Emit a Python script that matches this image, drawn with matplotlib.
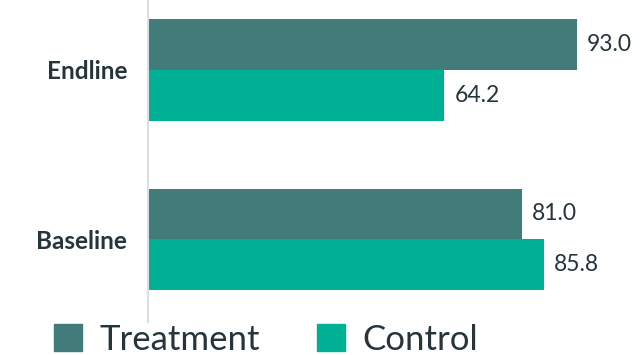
import matplotlib.pyplot as plt
from matplotlib.patches import Patch
import numpy as np

categorias = ['Baseline', 'Endline']
tratamiento = [81.0, 93.0]
control = [85.8, 64.2]
series = ['Treatment', 'Control']

col_trat = '#417B7A'
col_ctrl = '#00B095'
col_texto = '#26343C'

plt.rcParams['font.family'] = ['Lato', 'DejaVu Sans']

fig = plt.figure(figsize=(6.41, 3.55), dpi=100)
ax = fig.add_axes([148 / 641, 33 / 355, 1 - 148 / 641, 322 / 355])

y = np.arange(len(categorias))
alto = 0.3
b1 = ax.barh(y + alto / 2, tratamiento, height=alto, color=col_trat)
b2 = ax.barh(y - alto / 2, control, height=alto, color=col_ctrl)

for barras in (b1, b2):
    for b in barras:
        v = b.get_width()
        ax.text(v + 2.2, b.get_y() + b.get_height() / 2, f'{v:.1f}',
                va='center', ha='left', fontsize=16.5, color=col_texto)

ax.set_yticks(y)
ax.set_yticklabels(categorias, fontsize=17.5, fontweight='bold', color=col_texto)
ax.tick_params(axis='y', length=0, pad=15)
ax.set_xticks([])
ax.set_xlim(0, 493 / 4.613)
ax.set_ylim(-0.487, 1.412)

for lado in ['top', 'right', 'bottom']:
    ax.spines[lado].set_visible(False)
ax.spines['left'].set_color('#D9DEE2')
ax.spines['left'].set_linewidth(1.5)

handles = [Patch(color=col_trat), Patch(color=col_ctrl)]
fig.legend(handles, series, loc='lower left', bbox_to_anchor=(51 / 641, -0.012),
           ncol=2, frameon=False, fontsize=25, handlelength=0.8, handleheight=0.8,
           handletextpad=0.5, columnspacing=1.65, labelcolor=col_texto,
           borderaxespad=0, borderpad=0.1)

plt.savefig('out.png', dpi=100)
